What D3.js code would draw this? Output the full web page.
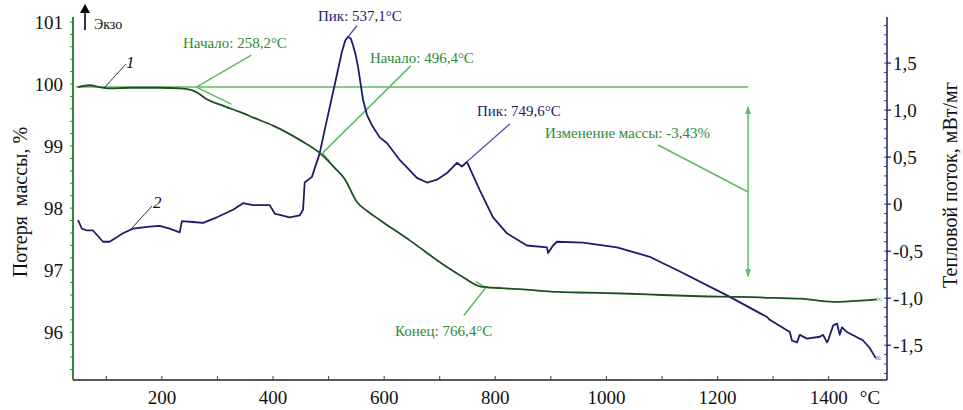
<!DOCTYPE html>
<html><head><meta charset="utf-8">
<script src="https://cdn.jsdelivr.net/npm/d3@7"></script>
<style>body{margin:0;background:#fff}svg{display:block}text{font-family:"Liberation Serif","Times New Roman",serif}</style>
</head><body><svg id="c" width="963" height="410"></svg>
<script>
// ---- data ----
const tgT = [49,70,88,103,142,196,232,250,262,280,313,340,367,400,448,484,511,529,551,570,592,646,713,745,772,808,850,911,950,1042,1100,1168,1240,1276,1350,1408,1440,1487];
const tgM = [99.95,99.98,99.95,99.93,99.94,99.94,99.93,99.91,99.87,99.76,99.64,99.55,99.45,99.33,99.10,98.89,98.65,98.47,98.10,97.95,97.81,97.48,97.05,96.87,96.74,96.71,96.69,96.65,96.64,96.62,96.60,96.58,96.57,96.56,96.54,96.49,96.50,96.53];
const dscT = [49,56,65,76,94,106,130,148,178,196,214,232,236,256,274,299,328,346,364,394,403,430,448,454,457,470,484,493,511,524,530,535,540,544,549,553,562,569,578,592,605,628,659,677,695,713,731,740,749,772,796,821,857,893,895,904,911,958,1019,1055,1078,1109,1127,1217,1289,1294,1330,1334,1343,1348,1361,1384,1390,1397,1399,1408,1415,1420,1424,1433,1462,1474,1485];
const dscV = [-0.17,-0.26,-0.28,-0.28,-0.40,-0.40,-0.31,-0.26,-0.24,-0.23,-0.26,-0.30,-0.18,-0.19,-0.20,-0.14,-0.06,0.01,-0.01,-0.01,-0.10,-0.14,-0.12,-0.06,0.23,0.29,0.54,0.79,1.27,1.62,1.74,1.78,1.76,1.69,1.58,1.46,1.11,0.95,0.84,0.71,0.65,0.47,0.28,0.23,0.26,0.33,0.44,0.40,0.45,0.15,-0.14,-0.31,-0.44,-0.46,-0.52,-0.44,-0.40,-0.41,-0.46,-0.52,-0.56,-0.65,-0.70,-0.97,-1.20,-1.23,-1.36,-1.45,-1.47,-1.39,-1.43,-1.41,-1.39,-1.47,-1.45,-1.29,-1.27,-1.39,-1.31,-1.36,-1.45,-1.53,-1.64];
const xTicks = [200,400,600,800,1000,1200,1400];
const yLeftTicks = [96,97,98,99,100,101];
const yRightTicks = [1.5,1.0,0.5,0,-0.5,-1.0,-1.5];
const yRightLabels = ["1,5","1,0","0,5","0","-0,5","-1,0","-1,5"];
const texts = {
  left:"Потеря  массы, %", right:"Тепловой поток, мВт/мг", exo:"Экзо", unit:"°C",
  on1:"Начало: 258,2°C", on2:"Начало: 496,4°C", pk1:"Пик: 537,1°C", pk2:"Пик: 749,6°C",
  dm:"Изменение массы: -3,43%", end:"Конец: 766,4°C"
};
const onset1 = {T:262, m:99.95}, onset2 = {T:484, m:98.89}, endPt = {T:783, m:96.72};
const peak1 = {T:535, v:1.78}, peak2 = {T:749, v:0.45};
const baseM = 99.95, dmTop = 99.63, dmBot = 96.90, dmT = 1255;

// ---- drawing ----
const FONT = "Liberation Serif, Times New Roman, serif";
const svg = d3.select("#c");
const x = d3.scaleLinear().domain([40,1505]).range([73,887]);
const yL = d3.scaleLinear().domain([95.23,101.08]).range([380,17]);
const yR = d3.scaleLinear().domain([-1.87,1.99]).range([380,17]);
const green = "#2f8a36", lgreen = "#5dbb63", dgreen = "#1d4f22", navy = "#1c1c6a";

// axes
svg.append("line").attr("x1",73).attr("x2",887).attr("y1",380).attr("y2",380).attr("stroke","#222").attr("stroke-width",1.5);
svg.append("line").attr("x1",73).attr("x2",73).attr("y1",17).attr("y2",380).attr("stroke",green).attr("stroke-width",2);
svg.append("line").attr("x1",887).attr("x2",887).attr("y1",17).attr("y2",380).attr("stroke",navy).attr("stroke-width",1.5);
d3.range(100,1500,100).forEach(t=>{
  svg.append("line").attr("x1",x(t)).attr("x2",x(t)).attr("y1",380).attr("y2",376).attr("stroke","#444").attr("stroke-width",1);
});
svg.selectAll(".xt").data(xTicks).enter().append("text").attr("x",d=>x(d)).attr("y",404)
  .attr("text-anchor","middle").attr("font-size",19).attr("font-family",FONT).attr("fill","#111").text(d=>d);
svg.append("text").attr("x",870).attr("y",404).attr("text-anchor","middle").attr("font-size",19).attr("font-family",FONT).attr("fill","#111").text(texts.unit);
d3.range(95.4,101.05,0.2).forEach(v=>{
  svg.append("line").attr("x1",73).attr("x2",70).attr("y1",yL(v)).attr("y2",yL(v)).attr("stroke",green).attr("stroke-width",1);
});
svg.selectAll(".yl").data(yLeftTicks).enter().append("text").attr("x",63).attr("y",d=>yL(d)+7)
  .attr("text-anchor","end").attr("font-size",19).attr("font-family",FONT).attr("fill","#111").text(d=>d);
d3.range(-1.8,1.95,0.1).forEach(v=>{
  svg.append("line").attr("x1",887).attr("x2",884).attr("y1",yR(v)).attr("y2",yR(v)).attr("stroke",navy).attr("stroke-width",0.8);
});
yRightTicks.forEach((v,i)=>{
  svg.append("line").attr("x1",887).attr("x2",891).attr("y1",yR(v)).attr("y2",yR(v)).attr("stroke",navy).attr("stroke-width",1.2);
  svg.append("text").attr("x",893).attr("y",yR(v)+7).attr("font-size",19).attr("font-family",FONT).attr("fill","#111").text(yRightLabels[i]);
});
svg.append("text").attr("transform","translate(27,202) rotate(-90)").attr("text-anchor","middle").attr("font-size",20).attr("font-family",FONT).attr("fill","#111").style("white-space","pre").text(texts.left);
svg.append("text").attr("transform","translate(957,185) rotate(-90)").attr("text-anchor","middle").attr("font-size",20).attr("font-family",FONT).attr("fill","#111").text(texts.right);
svg.append("line").attr("x1",85).attr("x2",85).attr("y1",30).attr("y2",10).attr("stroke","#000").attr("stroke-width",1.6);
svg.append("path").attr("d","M80,13 L85,4 L90,13 Z").attr("fill","#000");
svg.append("text").attr("x",94).attr("y",29).attr("font-size",14).attr("font-family",FONT).attr("fill","#111").text(texts.exo);

// annotation lines (green)
const ag = svg.append("g").attr("stroke",lgreen).attr("stroke-width",1.5).attr("fill","none");
ag.append("line").attr("x1",x(45)).attr("x2",x(dmT)).attr("y1",yL(baseM)).attr("y2",yL(baseM));
const o1x=x(onset1.T), o1y=yL(onset1.m);
ag.append("line").attr("x1",o1x).attr("y1",o1y).attr("x2",o1x+55).attr("y2",o1y-32);
ag.append("line").attr("x1",o1x).attr("y1",o1y).attr("x2",o1x+35).attr("y2",o1y+17);
const o2x=x(onset2.T)+3, o2y=yL(onset2.m);
ag.append("line").attr("x1",o2x).attr("y1",o2y).attr("x2",o2x+88).attr("y2",o2y-87);
ag.append("line").attr("x1",o2x).attr("y1",o2y).attr("x2",o2x+8).attr("y2",o2y+10);
const ex=x(endPt.T), ey=yL(endPt.m);
ag.append("line").attr("x1",ex).attr("y1",ey).attr("x2",ex-22).attr("y2",ey+28);
ag.append("line").attr("x1",ex).attr("y1",ey).attr("x2",ex+16).attr("y2",ey);
ag.append("line").attr("x1",ex).attr("y1",ey).attr("x2",ex-10).attr("y2",ey-6);
const ax=x(dmT);
ag.append("line").attr("x1",ax).attr("x2",ax).attr("y1",yL(dmTop)).attr("y2",yL(dmBot));
ag.append("line").attr("x1",ax-90).attr("y1",145).attr("x2",ax).attr("y2",192);
svg.append("path").attr("d",`M${ax-3},${yL(dmTop)+7} L${ax},${yL(dmTop)-1} L${ax+3},${yL(dmTop)+7} Z`).attr("fill",lgreen);
svg.append("path").attr("d",`M${ax-3},${yL(dmBot)-7} L${ax},${yL(dmBot)+1} L${ax+3},${yL(dmBot)-7} Z`).attr("fill",lgreen);

// curves
const lineTG = d3.line().x(d=>x(d[0])).y(d=>yL(d[1])).curve(d3.curveMonotoneX);
const lineDSC = d3.line().x(d=>x(d[0])).y(d=>yR(d[1])).curve(d3.curveLinear);
svg.append("path").attr("d",lineDSC(dscT.map((t,i)=>[t,dscV[i]]))).attr("fill","none").attr("stroke",navy).attr("stroke-width",1.8).attr("stroke-linejoin","round");
svg.append("path").attr("d",lineTG(tgT.map((t,i)=>[t,tgM[i]]))).attr("fill","none").attr("stroke",dgreen).attr("stroke-width",1.8);
svg.append("text").attr("x",x(tgT[tgT.length-1])-1).attr("y",yL(tgM[tgM.length-1])+3).attr("font-size",9).attr("fill",lgreen).text("∞");
svg.append("text").attr("x",x(dscT[dscT.length-1])-1).attr("y",yR(dscV[dscV.length-1])+3).attr("font-size",9).attr("fill","#5a5ad0").text("∞");

// navy leaders
const p1x=x(peak1.T), p1y=yR(peak1.v);
svg.append("line").attr("x1",p1x).attr("y1",p1y).attr("x2",p1x+9).attr("y2",p1y-11).attr("stroke","#4a4aa0").attr("stroke-width",1.2);
const p2x=x(peak2.T), p2y=yR(peak2.v);
svg.append("line").attr("x1",p2x).attr("y1",p2y).attr("x2",p2x+43).attr("y2",p2y-38).attr("stroke","#4a4aa0").attr("stroke-width",1.2);
svg.append("line").attr("x1",104).attr("y1",88).attr("x2",126).attr("y2",64).attr("stroke","#333").attr("stroke-width",1);
svg.append("line").attr("x1",132).attr("y1",228).attr("x2",152).attr("y2",206).attr("stroke","#333").attr("stroke-width",1);
svg.append("text").attr("x",126).attr("y",68).attr("font-size",17).attr("font-style","italic").attr("font-family",FONT).attr("fill","#111").text("1");
svg.append("text").attr("x",153).attr("y",208).attr("font-size",17).attr("font-style","italic").attr("font-family",FONT).attr("fill","#111").text("2");

const lab = (t,xx,yy,c)=>svg.append("text").attr("x",xx).attr("y",yy).attr("font-size",15).attr("font-family",FONT).attr("fill",c).text(t);
lab(texts.on1,183,48,green);
lab(texts.on2,370,63,green);
lab(texts.pk1,318,21,navy);
lab(texts.pk2,477,116,navy);
lab(texts.dm,545,138,green);
lab(texts.end,395,336,green);
</script></body></html>
